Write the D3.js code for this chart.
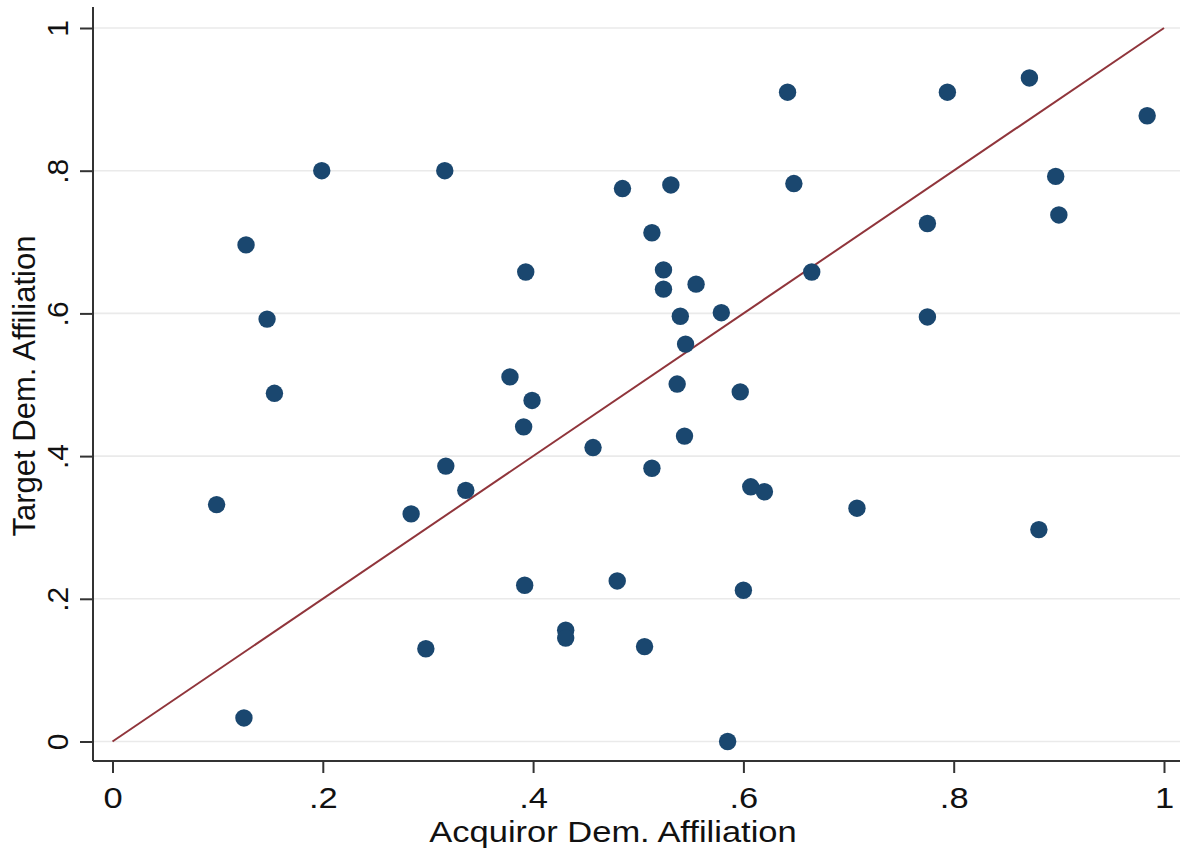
<!DOCTYPE html>
<html>
<head>
<meta charset="utf-8">
<script src="https://cdn.jsdelivr.net/npm/d3@7"></script>
<style>
  html, body { margin: 0; padding: 0; background: #fff; }
  svg { display: block; font-family: Arial, "Liberation Sans", sans-serif; }
</style>
</head>
<body>
<svg id="chart" width="1180" height="850"></svg>
<script>
// acquiror vs target democratic affiliation, one point per deal
var acquiror = [0.099, 0.127, 0.125, 0.147, 0.154, 0.199, 0.316, 0.317, 0.284, 0.298,
                0.336, 0.378, 0.393, 0.399, 0.391, 0.392, 0.431, 0.431, 0.457, 0.480,
                0.485, 0.506, 0.513, 0.513, 0.531, 0.524, 0.524, 0.540, 0.555, 0.545,
                0.537, 0.544, 0.579, 0.597, 0.600, 0.607, 0.620, 0.585, 0.642, 0.648,
                0.665, 0.708, 0.775, 0.775, 0.794, 0.872, 0.897, 0.900, 0.881, 0.984];
var target   = [0.332, 0.696, 0.033, 0.592, 0.488, 0.800, 0.800, 0.386, 0.319, 0.130,
                0.352, 0.511, 0.658, 0.478, 0.441, 0.219, 0.156, 0.145, 0.412, 0.225,
                0.775, 0.133, 0.713, 0.383, 0.780, 0.661, 0.634, 0.596, 0.641, 0.557,
                0.501, 0.428, 0.601, 0.490, 0.212, 0.357, 0.350, 0.000, 0.910, 0.782,
                0.658, 0.327, 0.726, 0.595, 0.910, 0.930, 0.792, 0.738, 0.297, 0.877];
var ticks = [0, 0.2, 0.4, 0.6, 0.8, 1];
var tickLabels = ['0', '.2', '.4', '.6', '.8', '1'];
var diagonal = [0, 1];

var svg = d3.select('#chart');
var W = 1180, H = 850;
var axisX = 93, axisY = 761;

var x = d3.scaleLinear().domain([0, 1]).range([112.5, 1164]);
var y = d3.scaleLinear().domain([0, 1]).range([741.5, 28]);

var navy = '#1a476f', maroon = '#90353b', ink = '#333';
var stretch = 1.15;

// gridlines
svg.append('g').selectAll('line').data(ticks).enter().append('line')
    .attr('x1', axisX).attr('x2', W)
    .attr('y1', function(d) { return y(d); }).attr('y2', function(d) { return y(d); })
    .attr('stroke', '#eaeaea').attr('stroke-width', 1.6);

// y axis
var yAxis = d3.axisLeft(y).tickValues(ticks).tickSize(13).tickPadding(0)
    .tickFormat(function(d, i) { return tickLabels[i]; });
var gy = svg.append('g').attr('transform', 'translate(' + axisX + ',0)').call(yAxis);
gy.select('.domain').remove();
gy.selectAll('.tick line').attr('stroke', ink).attr('stroke-width', 2);
gy.selectAll('.tick text')
    .attr('font-size', 30).attr('fill', '#111')
    .attr('text-anchor', 'middle').attr('dy', 0).attr('x', 0)
    .attr('transform', 'translate(-25,0) rotate(-90)');
svg.append('line').attr('x1', axisX).attr('x2', axisX).attr('y1', 7).attr('y2', axisY)
    .attr('stroke', ink).attr('stroke-width', 2);

// x axis
var xAxis = d3.axisBottom(x).tickValues(ticks).tickSize(12).tickPadding(0)
    .tickFormat(function(d, i) { return tickLabels[i]; });
var gx = svg.append('g').attr('transform', 'translate(0,' + axisY + ')').call(xAxis);
gx.select('.domain').remove();
gx.selectAll('.tick line').attr('stroke', ink).attr('stroke-width', 2);
gx.selectAll('.tick text')
    .attr('font-size', 30).attr('fill', '#111')
    .attr('y', 0).attr('dy', 0)
    .attr('transform', 'translate(0,47) scale(' + stretch + ',1)');
svg.append('line').attr('x1', axisX).attr('x2', W).attr('y1', axisY).attr('y2', axisY)
    .attr('stroke', ink).attr('stroke-width', 2);

// 45 degree line
svg.append('path')
    .datum(diagonal)
    .attr('d', d3.line().x(function(d) { return x(d); }).y(function(d) { return y(d); }))
    .attr('fill', 'none').attr('stroke', maroon).attr('stroke-width', 2);

// points
svg.append('g').selectAll('circle').data(acquiror).enter().append('circle')
    .attr('cx', function(d) { return x(d); })
    .attr('cy', function(d, i) { return y(target[i]); })
    .attr('r', 8.7)
    .attr('fill', navy);

// axis titles
svg.append('text')
    .attr('transform', 'translate(613,842) scale(' + stretch + ',1)')
    .attr('text-anchor', 'middle').attr('font-size', 30).attr('fill', '#111')
    .text('Acquiror Dem. Affiliation');
svg.append('text')
    .attr('transform', 'translate(35,386) rotate(-90)')
    .attr('text-anchor', 'middle').attr('font-size', 31).attr('fill', '#111')
    .text('Target Dem. Affiliation');
</script>
</body>
</html>
